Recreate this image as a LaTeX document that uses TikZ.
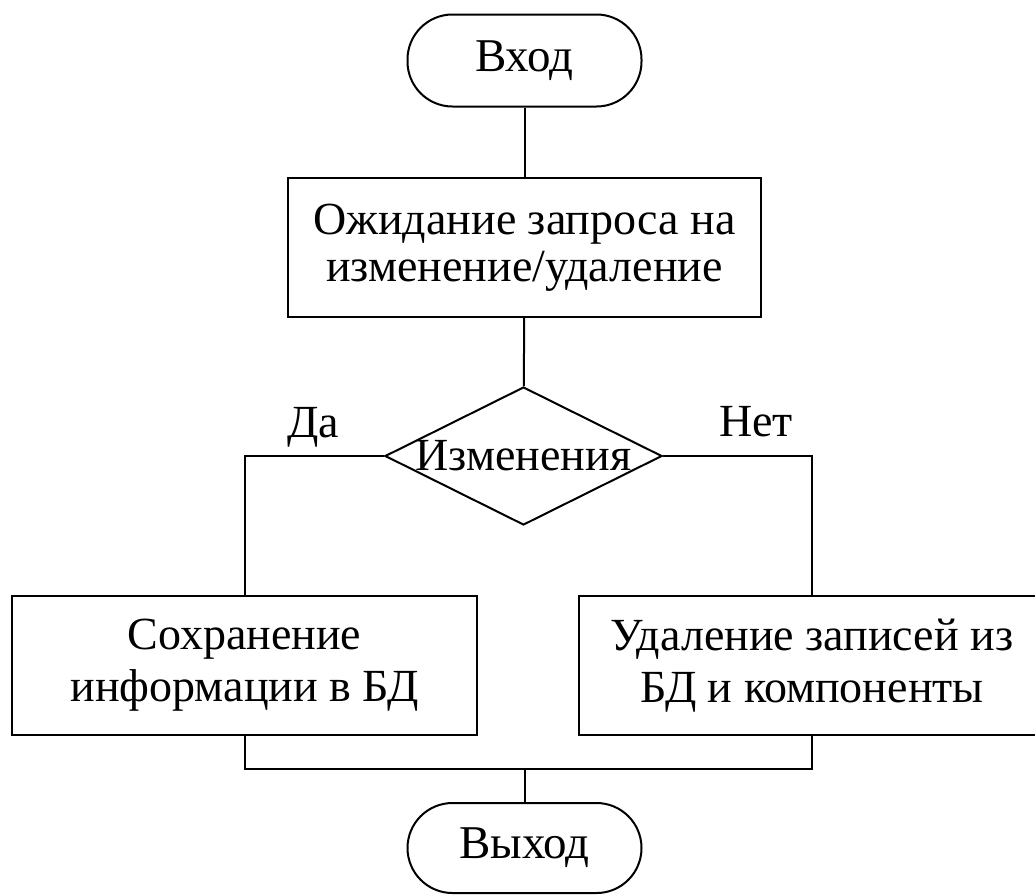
\documentclass[tikz,border=0pt]{standalone}
\usepackage{fontspec}
\setmainfont{Liberation Serif}
\usetikzlibrary{shapes.geometric}
\begin{document}
\begin{tikzpicture}[x=1pt,y=-1pt,
  every node/.style={font=\fontsize{46}{47}\selectfont, align=center},
  flowline/.style={line width=2pt},
  terminal/.style={draw, line width=2pt, rectangle, rounded corners=45pt,
    minimum width=234pt, minimum height=92pt, inner sep=0pt,
    font=\fontsize{47}{47}\selectfont},
  procbox/.style={draw, line width=2pt, rectangle,
    minimum height=139pt, inner sep=0pt},
  decision/.style={draw, line width=2pt, diamond, aspect=2,
    minimum width=277pt, minimum height=138pt, inner sep=0pt},
  branchlabel/.style={inner sep=0pt, anchor=base}]
  \useasboundingbox (0,0) rectangle (1035,895);

  % blocks
  \node[terminal] (start) at (524.5,60.5) {Вход};
  \node[procbox, minimum width=473pt] (wait) at (524.5,247.5)
    {Ожидание запроса на\\изменение/удаление};
  \node[decision] (dec) at (523.5,456) {};
  \node[inner sep=0pt] (decText) at (523.5,456) {Изменения};
  \node[procbox, minimum width=465pt,
    font=\fontsize{46}{52}\selectfont] (save) at (244.5,665.5)
    {Сохранение\\информации в БД};
  \node[procbox, minimum width=466pt,
    font=\fontsize{46}{52}\selectfont] (del) at (812,665.5)
    {Удаление записей из\\БД и компоненты};
  \node[terminal, minimum height=90pt] (stop) at (524.5,848) {Выход};

  % branch labels
  \node[branchlabel] (yesLbl) at (313,437) {Да};
  \node[branchlabel] (noLbl) at (756,436) {Нет};

  % connectors
  \coordinate (join) at (524.5,769);
  \draw[flowline] (start) -- (wait);
  \draw[flowline] (wait) -- (dec);
  \draw[flowline] (dec.west) -| (save.north);
  \draw[flowline] (dec.east) -| (del.north);
  \draw[flowline] (save.south) |- (join);
  \draw[flowline] (del.south) |- (join);
  \draw[flowline] (join) -- (stop);
\end{tikzpicture}
\end{document}
